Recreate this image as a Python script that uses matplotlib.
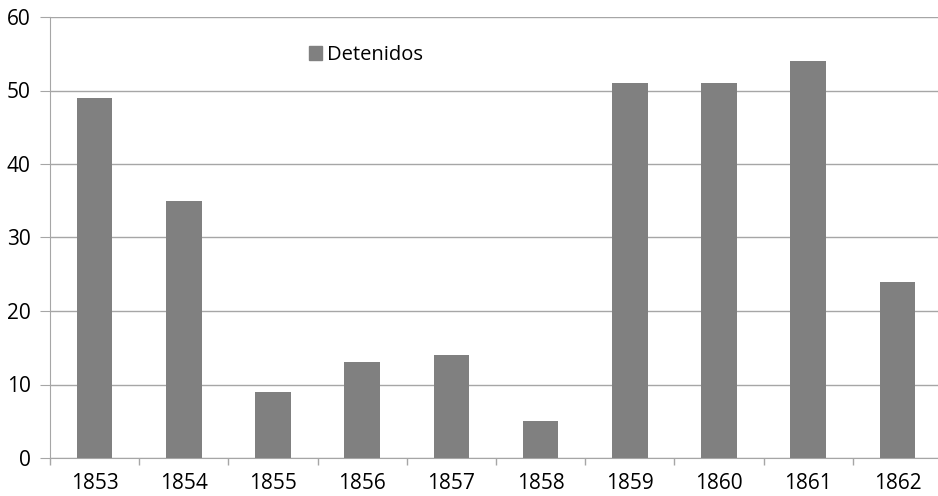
import matplotlib
matplotlib.use("Agg")
import matplotlib.pyplot as plt
from matplotlib.patches import Patch

years = ["1853", "1854", "1855", "1856", "1857", "1858", "1859", "1860", "1861", "1862"]
detenidos = [49, 35, 9, 13, 14, 5, 51, 51, 54, 24]
yticks = [0, 10, 20, 30, 40, 50, 60]

plt.rcParams['font.family'] = ['Open Sans', 'DejaVu Sans']

fig = plt.figure(figsize=(9.38, 4.96), dpi=100)
W, H = 938, 496
x0, x1, ytop, ybot = 50, 942, 17, 458
ax = fig.add_axes([x0 / W, 1 - ybot / H, (x1 - x0) / W, (ybot - ytop) / H])

xs = list(range(len(years)))
ax.bar(xs, detenidos, width=0.4, color="#808080", zorder=3, label="Detenidos")
ax.set_xlim(-0.5, len(years) - 0.5)
ax.set_ylim(0, 60)
ax.set_yticks(yticks)
ax.set_yticklabels([str(v) for v in yticks], fontsize=15)
ax.yaxis.grid(True, color="#a6a6a6", linewidth=1, zorder=0)
ax.tick_params(axis='y', length=7, color="#a6a6a6", pad=7)

ax.set_xticks(xs)
ax.set_xticklabels(years, fontsize=15)
ax.tick_params(axis='x', which='major', length=0, pad=11)
ax.set_xticks([i - 0.5 for i in range(len(years) + 1)], minor=True)
ax.tick_params(axis='x', which='minor', length=5, color="#a6a6a6", width=1)

for s in ["top", "right"]:
    ax.spines[s].set_visible(False)
ax.spines["left"].set_color("#a6a6a6")
ax.spines["bottom"].set_color("#a6a6a6")

ax.legend(handles=[Patch(color="#808080", label="Detenidos")], loc="center left",
          bbox_to_anchor=((309 - x0) / (x1 - x0), 1 - (55 - ytop) / (ybot - ytop)),
          frameon=False, fontsize=14.5, handlelength=0.65, handleheight=0.65,
          handletextpad=0.25, borderaxespad=0, borderpad=0)

fig.savefig("out.png", dpi=100)
